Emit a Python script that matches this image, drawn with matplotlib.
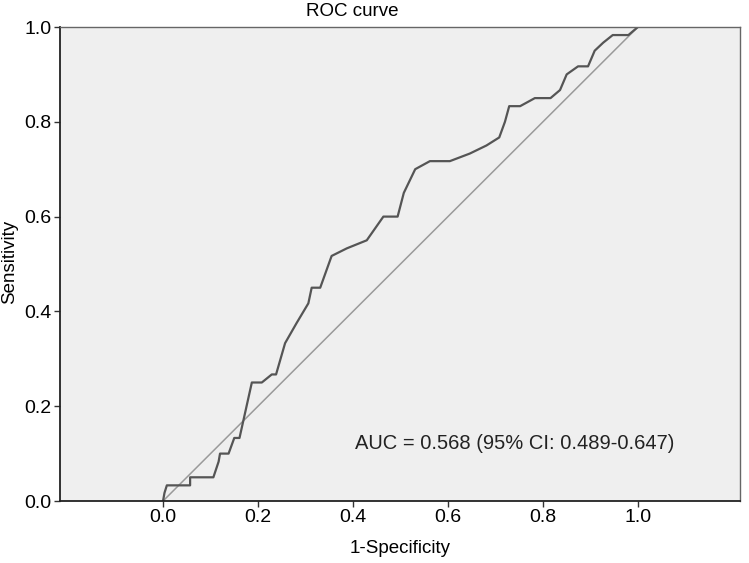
import matplotlib
matplotlib.use("Agg")
from matplotlib import pyplot as plt

plt.rcParams['font.family'] = ['Liberation Sans', 'DejaVu Sans']

# ROC curve points
fpr = [0.0, 0.003, 0.008, 0.057, 0.057, 0.106, 0.117, 0.12, 0.138, 0.15,
       0.161, 0.187, 0.208, 0.229, 0.238, 0.257, 0.281, 0.306, 0.313, 0.331,
       0.355, 0.387, 0.429, 0.464, 0.494, 0.507, 0.531, 0.562, 0.604, 0.646,
       0.681, 0.708, 0.72, 0.729, 0.752, 0.783, 0.816, 0.836, 0.85, 0.874,
       0.895, 0.909, 0.927, 0.947, 0.98, 1.0]
tpr = [0.0, 0.017, 0.033, 0.033, 0.05, 0.05, 0.083, 0.1, 0.1, 0.133,
       0.133, 0.25, 0.25, 0.267, 0.267, 0.333, 0.375, 0.417, 0.45, 0.45,
       0.517, 0.533, 0.55, 0.6, 0.6, 0.65, 0.7, 0.717, 0.717, 0.733,
       0.75, 0.767, 0.8, 0.833, 0.833, 0.85, 0.85, 0.867, 0.9, 0.917,
       0.917, 0.95, 0.967, 0.983, 0.983, 1.0]
ref_line = [0.0, 1.0]
x_ticks = [0.0, 0.2, 0.4, 0.6, 0.8, 1.0]
y_ticks = [0.0, 0.2, 0.4, 0.6, 0.8, 1.0]
auc_label = "AUC = 0.568 (95% CI: 0.489-0.647)"

fig = plt.figure(figsize=(7.49, 5.63), dpi=100)
ax = fig.add_axes([60 / 749, 1 - 501 / 563, 680 / 749, 474 / 563])
ax.set_facecolor('#efefef')

ax.plot(ref_line, ref_line, color='#9a9a9a', lw=1.1)
ax.plot(fpr, tpr, color='#555555', lw=1.6)

ax.set_xlim(-0.217, 1.215)
ax.set_ylim(0.0, 1.0)
ax.set_xticks(x_ticks)
ax.set_yticks(y_ticks)
ax.set_xticklabels(["%.1f" % v for v in x_ticks])
ax.set_yticklabels(["%.1f" % v for v in y_ticks])
ax.tick_params(labelsize=14, length=4, width=1, color='#333333', pad=2)

for side in ['left', 'bottom']:
    ax.spines[side].set_color('#222222')
    ax.spines[side].set_linewidth(1.3)
for side in ['top', 'right']:
    ax.spines[side].set_color('#666666')
    ax.spines[side].set_linewidth(1.0)

ax.text(0.404, 0.122, auc_label, fontsize=14.5, va='center', ha='left', color='#222222')

ax.set_xlabel("1-Specificity", fontsize=13.5, labelpad=10)
fig.text(10 / 749, 1 - 262 / 563, "Sensitivity", fontsize=13.5, rotation=90,
         ha='center', va='center')
fig.text(352 / 749, 1 - 12 / 563, "ROC curve", fontsize=13.5, ha='center', va='center')

fig.savefig("out.png", dpi=100)
